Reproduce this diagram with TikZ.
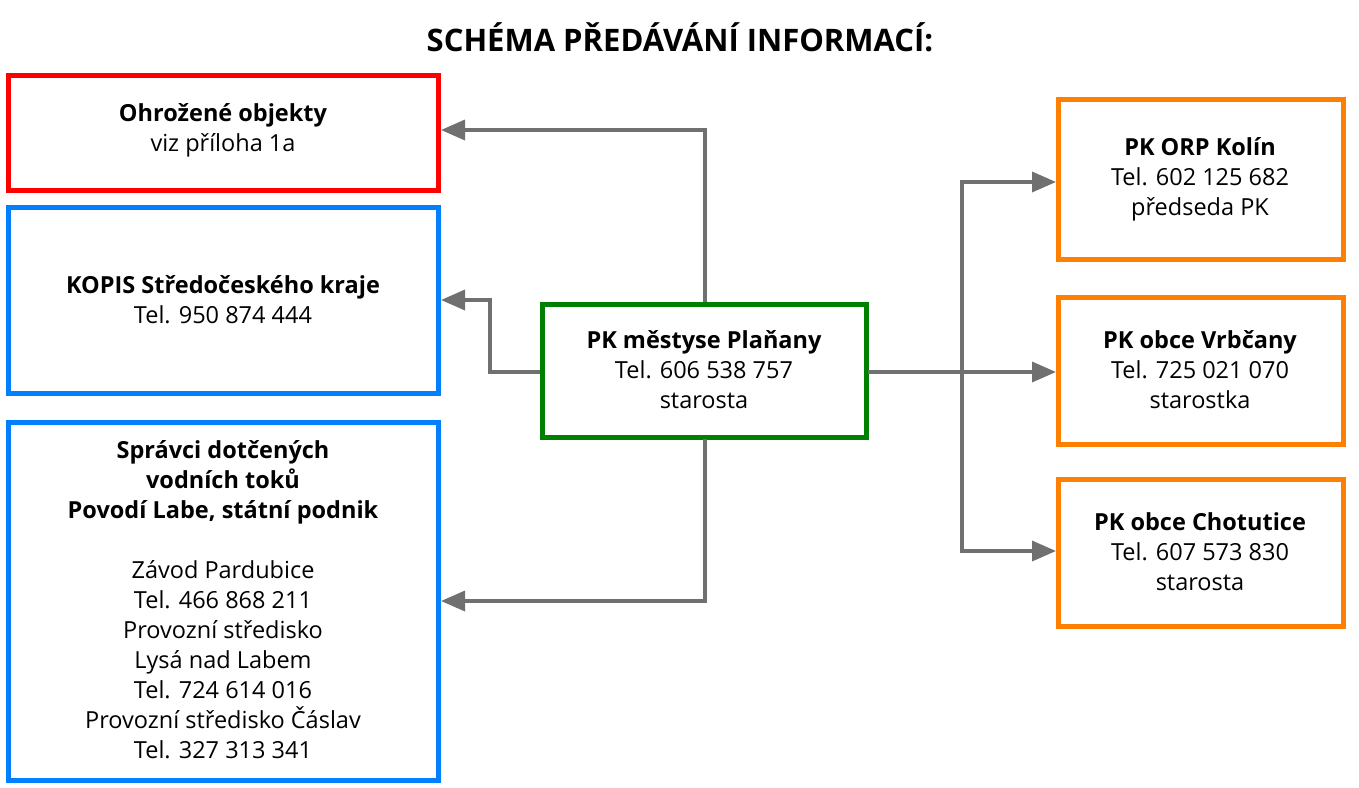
\documentclass[tikz,border=0pt]{standalone}
\usepackage{fontspec}
\setmainfont{Open Sans}
\usetikzlibrary{arrows.meta}
\definecolor{cred}{HTML}{FF0000}
\definecolor{cblue}{HTML}{0080FF}
\definecolor{cgreen}{HTML}{008000}
\definecolor{corange}{HTML}{FF8000}
\definecolor{cgray}{HTML}{707070}
\begin{document}
\begin{tikzpicture}[x=1pt,y=-1pt,
  box/.style={line width=5pt,fill=white},
  txt/.style={align=center,font=\fontsize{23.5}{30}\selectfont},
  conn/.style={draw=cgray,line width=3.5pt,-{Triangle[length=24pt,width=20pt]}}]
\useasboundingbox (0,0) rectangle (1359,787);
\node[font=\bfseries\fontsize{31}{36}\selectfont] (title) at (680,37) {SCHÉMA PŘEDÁVÁNÍ INFORMACÍ:};
\draw[box,draw=cred] (8,75) rectangle (438,190);
\node[txt] (r) at (223,130) {\textbf{Ohrožené objekty}\\viz příloha 1a};
\draw[box,draw=cblue] (8,207) rectangle (438,393);
\node[txt] (b1) at (223,300) {\textbf{KOPIS Středočeského kraje}\\Tel. 950 874 444};
\draw[box,draw=cblue] (8,422) rectangle (438,780);
\node[txt] (b2) at (223,600) {\textbf{Správci dotčených}\\\textbf{vodních toků}\\\textbf{Povodí Labe, státní podnik}\\[30pt]Závod Pardubice\\Tel. 466 868 211\\Provozní středisko\\Lysá nad Labem\\Tel. 724 614 016\\Provozní středisko Čáslav\\Tel. 327 313 341};
\draw[box,draw=cgreen] (542,304) rectangle (866,437);
\node[txt] (g) at (704,370) {\textbf{PK městyse Plaňany}\\Tel. 606 538 757\\starosta};
\draw[box,draw=corange] (1058,99) rectangle (1343,259);
\node[txt] (o1) at (1200,179) {\textbf{PK ORP Kolín}\\Tel. 602 125 682\\předseda PK};
\draw[box,draw=corange] (1058,297) rectangle (1343,444);
\node[txt] (o2) at (1200,370) {\textbf{PK obce Vrbčany}\\Tel. 725 021 070\\starostka};
\draw[box,draw=corange] (1058,479) rectangle (1343,626);
\node[txt] (o3) at (1200,552) {\textbf{PK obce Chotutice}\\Tel. 607 573 830\\starosta};
\coordinate (gt) at (705,302);
\coordinate (gb) at (705,439);
\coordinate (gl) at (540,372);
\coordinate (gr) at (868,372);
\coordinate (rt) at (441,130);
\coordinate (b1t) at (441,300);
\coordinate (b2t) at (441,601);
\coordinate (o1t) at (1056,182);
\coordinate (o2t) at (1056,372);
\coordinate (o3t) at (1056,551);
\draw[conn] (gt) |- (rt);
\draw[conn] (gl) -- (490,372) |- (b1t);
\draw[conn] (gb) |- (b2t);
\draw[conn] (gr) -- (o2t);
\draw[conn] (962,372) |- (o1t);
\draw[conn] (962,372) |- (o3t);
\end{tikzpicture}
\end{document}
